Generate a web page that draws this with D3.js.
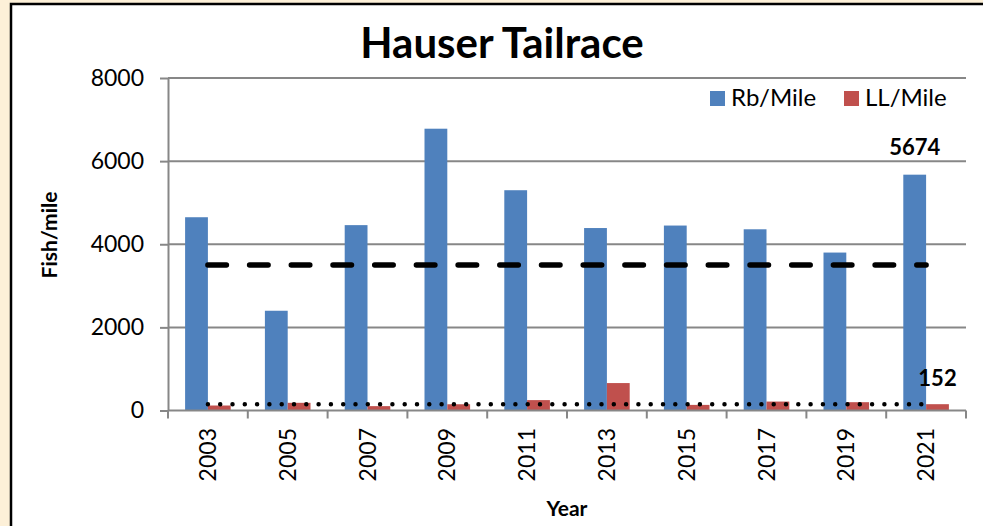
<!DOCTYPE html>
<html>
<head>
<meta charset="utf-8">
<script src="https://cdn.jsdelivr.net/npm/d3@7"></script>
<style>
  html, body { margin: 0; background: #fdf0d8; overflow: hidden; }
  svg { display: block; font-family: Lato, "Open Sans", sans-serif; }
</style>
</head>
<body>
<div id="chart"></div>
<script>
var years = ["2003", "2005", "2007", "2009", "2011", "2013", "2015", "2017", "2019", "2021"];
var rbMile = [4650, 2400, 4460, 6780, 5300, 4390, 4450, 4360, 3800, 5674];
var llMile = [120, 185, 105, 150, 250, 660, 135, 215, 200, 152];
var seriesNames = ["Rb/Mile", "LL/Mile"];
var seriesColors = ["#4f81bd", "#c0504d"];
var yTicks = [0, 2000, 4000, 6000, 8000];
var rbGoal = 3500,
    llLevel = 152;

var width = 983,
    height = 526;

// svg is a bit wider/taller than the window so the frame runs off the edges
var svg = d3.select("#chart").append("svg")
    .attr("width", width + 200)
    .attr("height", height + 60);

svg.append("rect")
    .attr("x", 11).attr("y", 4)
    .attr("width", width + 300).attr("height", height + 100)
    .attr("fill", "#fff")
    .attr("stroke", "#000")
    .attr("stroke-width", 2.5);

var x = d3.scaleBand()
    .domain(years)
    .range([168, 966]);

var x1 = d3.scaleBand()
    .domain(seriesNames)
    .range([0, x.bandwidth()])
    .paddingOuter(0.75);

var y = d3.scaleLinear()
    .domain([0, 8000])
    .range([410.5, 78]);

var rows = years.map(function(yr, i) {
  return { year: yr, values: [rbMile[i], llMile[i]] };
});

// gridlines
svg.append("g").selectAll("line")
    .data(yTicks.slice(1))
  .enter().append("line")
    .attr("x1", 168).attr("x2", 966)
    .attr("y1", function(d) { return y(d); })
    .attr("y2", function(d) { return y(d); })
    .attr("stroke", "#878787")
    .attr("stroke-width", 2);

// bars
svg.append("g").selectAll("g")
    .data(rows)
  .enter().append("g")
    .attr("transform", function(d) { return "translate(" + x(d.year) + ",0)"; })
  .selectAll("rect")
    .data(function(d) { return d.values.map(function(v, j) { return { key: seriesNames[j], value: v, j: j }; }); })
  .enter().append("rect")
    .attr("x", function(d) { return x1(d.key); })
    .attr("width", x1.bandwidth())
    .attr("y", function(d) { return y(d.value); })
    .attr("height", function(d) { return y(0) - y(d.value); })
    .attr("fill", function(d) { return seriesColors[d.j]; });

var xFirst = x(years[0]) + x.bandwidth() / 2,
    xLast = x(years[years.length - 1]) + x.bandwidth() / 2;

// goal line (dashed)
svg.append("line")
    .attr("x1", xFirst).attr("x2", xLast)
    .attr("y1", y(rbGoal)).attr("y2", y(rbGoal))
    .attr("stroke", "#000")
    .attr("stroke-width", 5.5)
    .attr("stroke-linecap", "round")
    .attr("stroke-dasharray", "18.5 23.2");

// LL line (dotted)
svg.append("line")
    .attr("x1", xFirst).attr("x2", xLast)
    .attr("y1", y(llLevel)).attr("y2", y(llLevel))
    .attr("stroke", "#000")
    .attr("stroke-width", 4.5)
    .attr("stroke-linecap", "round")
    .attr("stroke-dasharray", "0 12.3");

// y axis
var yAxis = svg.append("g")
    .attr("transform", "translate(168,0)")
    .call(d3.axisLeft(y).tickValues(yTicks).tickSize(8).tickPadding(16).tickSizeOuter(0).tickFormat(d3.format("d")));
yAxis.select(".domain").attr("stroke", "#878787").attr("stroke-width", 2);
yAxis.selectAll(".tick line").attr("stroke", "#878787").attr("stroke-width", 2);
yAxis.selectAll(".tick text")
    .attr("fill", "#000")
    .style("font-size", "23px")
    .style("font-family", "Lato, sans-serif");

// x axis
var xAxis = svg.append("g");
xAxis.append("line")
    .attr("x1", 168).attr("x2", 966)
    .attr("y1", y(0)).attr("y2", y(0))
    .attr("stroke", "#878787").attr("stroke-width", 2);
xAxis.selectAll(".xtick")
    .data(years.concat(["end"]))
  .enter().append("line")
    .attr("class", "xtick")
    .attr("x1", function(d) { return d == "end" ? x.range()[1] : x(d); })
    .attr("x2", function(d) { return d == "end" ? x.range()[1] : x(d); })
    .attr("y1", y(0)).attr("y2", y(0) + 8)
    .attr("stroke", "#878787").attr("stroke-width", 2);
xAxis.selectAll("text")
    .data(years)
  .enter().append("text")
    .attr("transform", function(d) { return "translate(" + (x(d) + x.bandwidth() / 2) + ",428) rotate(-90)"; })
    .attr("text-anchor", "end")
    .attr("dy", "0.35em")
    .style("font-size", "23px")
    .text(function(d) { return d; });

// data labels
svg.append("text")
    .attr("x", x(years[9]) + x1(seriesNames[0]) + x1.bandwidth() / 2)
    .attr("y", y(rbMile[9]) - 20)
    .attr("text-anchor", "middle")
    .style("font-size", "22px").style("font-weight", "bold")
    .text(rbMile[9]);
svg.append("text")
    .attr("x", x(years[9]) + x1(seriesNames[1]) + x1.bandwidth() / 2)
    .attr("y", y(llMile[9]) - 18)
    .attr("text-anchor", "middle")
    .style("font-size", "22px").style("font-weight", "bold")
    .text(llMile[9]);

// titles
svg.append("text")
    .attr("x", 502).attr("y", 58)
    .attr("text-anchor", "middle")
    .style("font-size", "42px").style("font-weight", "bold")
    .text("Hauser Tailrace");

svg.append("text")
    .attr("transform", "translate(57,235) rotate(-90)")
    .attr("text-anchor", "middle")
    .style("font-size", "21px").style("font-weight", "bold")
    .text("Fish/mile");

svg.append("text")
    .attr("x", 567).attr("y", 516)
    .attr("text-anchor", "middle")
    .style("font-size", "21px").style("font-weight", "bold")
    .text("Year");

// legend
var legendX = [710, 844];
var legend = svg.append("g").selectAll("g")
    .data(seriesNames)
  .enter().append("g")
    .attr("transform", function(d, i) { return "translate(" + legendX[i] + ",91)"; });
legend.append("rect")
    .attr("width", 15).attr("height", 15)
    .attr("fill", function(d, i) { return seriesColors[i]; });
legend.append("text")
    .attr("x", 21).attr("y", 15)
    .style("font-size", "24px")
    .text(function(d) { return d; });
</script>
</body>
</html>
